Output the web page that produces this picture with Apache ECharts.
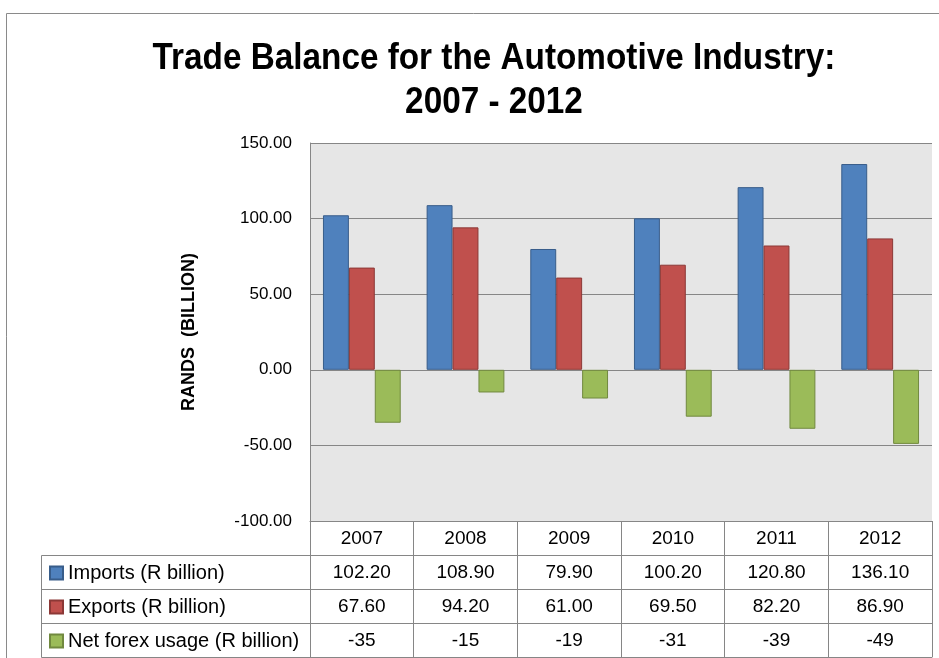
<!DOCTYPE html>
<html>
<head>
<meta charset="utf-8">
<script src="https://cdn.jsdelivr.net/npm/echarts@6/dist/echarts.min.js"></script>
<style>
  html, body { margin: 0; padding: 0; background: #fff; }
  #chart { width: 939px; height: 658px; }
</style>
</head>
<body>
<div id="chart"></div>
<script>
// Trade balance of the automotive industry, R billion
const years = ['2007', '2008', '2009', '2010', '2011', '2012'];
const imports = [102.20, 108.90, 79.90, 100.20, 120.80, 136.10];
const exports = [67.60, 94.20, 61.00, 69.50, 82.20, 86.90];
const netForex = [-35, -15, -19, -31, -39, -49];
const yTicks = { min: -100, max: 150, step: 50 };

const seriesNames = ['Imports (R billion)', 'Exports (R billion)', 'Net forex usage (R billion)'];
const rowValues = [imports.map(v => v.toFixed(2)), exports.map(v => v.toFixed(2)), netForex.map(String)];
const titleLines = ['Trade Balance for the Automotive Industry:', '2007 - 2012'];

const FONT = '"Liberation Sans", Arial, sans-serif';
const LINE = '#868686';
const ROW_H = 34;

// One category axis per data-table row, stacked below the plot
function tableAxis(row, labels) {
  return {
    type: 'category',
    data: years,
    position: 'bottom',
    offset: row * ROW_H,
    axisLine: { show: true, onZero: false, lineStyle: { color: LINE, width: 1 } },
    axisTick: { show: labels !== null, interval: 0, length: ROW_H, lineStyle: { color: LINE } },
    axisLabel: {
      show: labels !== null,
      interval: 0,
      margin: 8,
      fontFamily: FONT,
      fontSize: 19,
      color: '#000',
      formatter: (v, i) => labels ? labels[i] : ''
    },
    splitLine: { show: false }
  };
}

// Title lines, squeezed horizontally to a condensed bold face
function titleText(text, y) {
  return {
    type: 'text',
    x: 494, y: y,
    scaleX: 0.9,
    silent: true,
    style: {
      text: text,
      fontFamily: FONT,
      fontWeight: 'bold',
      fontSize: 37,
      fill: '#000',
      textAlign: 'center',
      textVerticalAlign: 'middle'
    }
  };
}

const chart = echarts.init(document.getElementById('chart'), null, { renderer: 'canvas' });

chart.setOption({
  animation: false,
  backgroundColor: '#fff',
  legend: {
    orient: 'vertical',
    left: 44,
    top: 558,
    height: 200,
    itemWidth: 13,
    itemHeight: 13,
    itemGap: 14,
    icon: 'rect',
    selectedMode: false,
    textStyle: { fontFamily: FONT, fontSize: 20, color: '#000' },
    data: seriesNames
  },
  grid: {
    left: 310,
    right: 7,
    top: 143,
    bottom: 137,
    show: true,
    backgroundColor: '#e6e6e6',
    borderWidth: 0
  },
  xAxis: [
    tableAxis(0, years),
    tableAxis(1, rowValues[0]),
    tableAxis(2, rowValues[1]),
    tableAxis(3, rowValues[2]),
    tableAxis(4, null)
  ],
  yAxis: {
    type: 'value',
    min: yTicks.min,
    max: yTicks.max,
    interval: yTicks.step,
    name: 'RANDS  (BILLION)',
    nameLocation: 'middle',
    nameGap: 112,
    nameTextStyle: { fontFamily: FONT, fontWeight: 'bold', fontSize: 18, color: '#000' },
    axisLine: { show: true, lineStyle: { color: LINE } },
    axisTick: { show: false },
    axisLabel: {
      margin: 18,
      fontFamily: FONT,
      fontSize: 17,
      color: '#000',
      formatter: v => v.toFixed(2)
    },
    splitLine: { show: true, lineStyle: { color: LINE, width: 1 } }
  },
  series: [
    {
      name: seriesNames[0], type: 'bar', data: imports,
      barGap: '0%', barCategoryGap: '25%',
      itemStyle: { color: '#4f81bd', borderColor: '#385d8a', borderWidth: 1 }
    },
    {
      name: seriesNames[1], type: 'bar', data: exports,
      itemStyle: { color: '#c0504d', borderColor: '#8c3836', borderWidth: 1 }
    },
    {
      name: seriesNames[2], type: 'bar', data: netForex,
      itemStyle: { color: '#9bbb59', borderColor: '#71893f', borderWidth: 1 }
    }
  ],
  graphic: [
    titleText(titleLines[0], 59),
    titleText(titleLines[1], 103),
    // outer chart frame
    { type: 'rect', shape: { x: 6.5, y: 13.5, width: 960, height: 700 },
      style: { fill: null, stroke: '#8a8a8a', lineWidth: 1 }, silent: true },
    // legend column of the data table
    { type: 'polyline', shape: { points: [[310, 555.5], [41.5, 555.5], [41.5, 657.5], [310, 657.5]] },
      style: { fill: null, stroke: LINE, lineWidth: 1 }, silent: true },
    { type: 'line', shape: { x1: 41.5, y1: 589.5, x2: 310, y2: 589.5 },
      style: { stroke: LINE, lineWidth: 1 }, silent: true },
    { type: 'line', shape: { x1: 41.5, y1: 623.5, x2: 310, y2: 623.5 },
      style: { stroke: LINE, lineWidth: 1 }, silent: true }
  ]
});
</script>
</body>
</html>
